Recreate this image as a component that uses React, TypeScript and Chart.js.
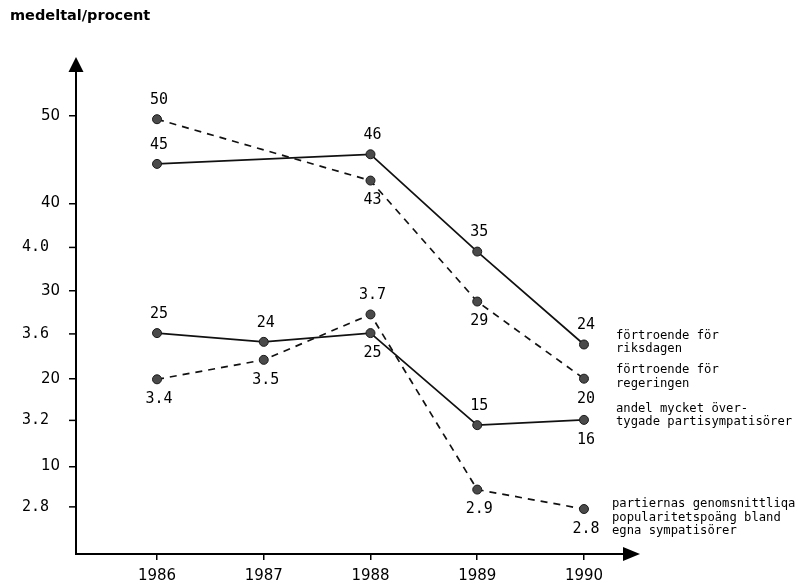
import React, { useEffect, useRef } from "react";
import { Chart, registerables } from "chart.js";

Chart.register(...registerables);

// ---- data ----
const YEARS = [1986, 1987, 1988, 1989, 1990];
// percent series (null = no measurement that year)
const RIKSDAGEN: (number | null)[] = [44.5, null, 45.6, 34.5, 23.9];
const REGERINGEN: (number | null)[] = [49.6, null, 42.6, 28.8, 20.0];
const OVERTYGADE: (number | null)[] = [25.2, 24.2, 25.2, 14.7, 15.3];
// mean series (drawn on the mean scale that shares the left axis)
const POPULARITET: (number | null)[] = [3.39, 3.48, 3.69, 2.88, 2.79];

const RIKSDAGEN_LABELS = ["45", "", "46", "35", "24"];
const REGERINGEN_LABELS = ["50", "", "43", "29", "20"];
const OVERTYGADE_LABELS = ["25", "24", "25", "15", "16"];
const POPULARITET_LABELS = ["3.4", "3.5", "3.7", "2.9", "2.8"];

const PERCENT_TICKS = [10, 20, 30, 40, 50];
const MEAN_TICKS = [2.8, 3.2, 3.6, 4.0];

const TITLE = "medeltal/procent";
const LEGEND_RIKSDAGEN = ["förtroende för", "riksdagen"];
const LEGEND_REGERINGEN = ["förtroende för", "regeringen"];
const LEGEND_OVERTYGADE = ["andel mycket över-", "tygade partisympatisörer"];
const LEGEND_POPULARITET = ["partiernas genomsnittliqa", "popularitetspoäng bland", "egna sympatisörer"];

// ---- layout / style ----
const PCT_MIN = 0;
const PCT_MAX = 55.1;
const MEAN_MIN = 2.582;
const MEAN_MAX = 4.816;
const X_MIN = 1985.241;
const X_MAX = 1990.375;
const INK = "#000";
const MONO = '"DejaVu Sans Mono", monospace';
const SANS = '"DejaVu Sans", sans-serif';

function toPoints(values: (number | null)[]) {
  const pts: { x: number; y: number }[] = [];
  values.forEach((v, i) => {
    if (v !== null) pts.push({ x: YEARS[i], y: v });
  });
  return pts;
}
function labelsFor(values: (number | null)[], labels: string[]) {
  return labels.filter((_, i) => values[i] !== null);
}

const overlayPlugin = {
  id: "overlay",
  afterDraw(chart: any) {
    const ctx: CanvasRenderingContext2D = chart.ctx;
    const { left, top, right, bottom } = chart.chartArea;
    ctx.save();

    // arrowheads
    ctx.fillStyle = INK;
    ctx.beginPath();
    ctx.moveTo(left, top - 14);
    ctx.lineTo(left - 7.5, top + 1);
    ctx.lineTo(left + 7.5, top + 1);
    ctx.closePath();
    ctx.fill();
    ctx.beginPath();
    ctx.moveTo(right + 16, bottom);
    ctx.lineTo(right - 1, bottom - 7);
    ctx.lineTo(right - 1, bottom + 7);
    ctx.closePath();
    ctx.fill();

    // mean-scale ticks and labels
    const y2 = chart.scales.y2;
    ctx.strokeStyle = INK;
    ctx.lineWidth = 1.5;
    ctx.font = `15px ${MONO}`;
    ctx.textAlign = "right";
    ctx.textBaseline = "middle";
    MEAN_TICKS.forEach((v) => {
      const py = y2.getPixelForValue(v);
      ctx.beginPath();
      ctx.moveTo(left - 7, py);
      ctx.lineTo(left, py);
      ctx.stroke();
      ctx.fillText(v.toFixed(1), left - 27, py);
    });

    // data labels
    ctx.font = `15px ${MONO}`;
    ctx.textAlign = "center";
    ctx.fillStyle = INK;
    chart.data.datasets.forEach((ds: any, di: number) => {
      const meta = chart.getDatasetMeta(di);
      meta.data.forEach((pt: any, j: number) => {
        const txt = ds.pointLabels[j];
        if (!txt) return;
        const dy = ds.labelPlacement[j] === "above" ? -19 : 20;
        ctx.fillText(txt, pt.x + 2, pt.y + dy);
      });
    });

    // side legend
    ctx.font = `12.2px ${MONO}`;
    ctx.textAlign = "left";
    const blocks: [string[], number, number][] = [
      [LEGEND_RIKSDAGEN, 616, 335.5],
      [LEGEND_REGERINGEN, 616, 370],
      [LEGEND_OVERTYGADE, 616, 408.5],
      [LEGEND_POPULARITET, 612, 504],
    ];
    blocks.forEach(([lines, x0, y0]) => {
      lines.forEach((l, k) => ctx.fillText(l, x0, y0 + k * 13.5));
    });

    // title
    ctx.font = `bold 14.5px ${SANS}`;
    ctx.fillText(TITLE, 10, 16);

    ctx.restore();
  },
};

export default function App() {
  const ref = useRef<HTMLCanvasElement | null>(null);

  useEffect(() => {
    document.body.style.margin = "0";
    const canvas = ref.current;
    if (!canvas) return;

    const base = {
      borderColor: "#111",
      borderWidth: 1.7,
      pointRadius: 4.5,
      pointHoverRadius: 4.5,
      pointBackgroundColor: "#4a4a4a",
      pointBorderColor: "#1a1a1a",
      pointBorderWidth: 1,
      fill: false,
      tension: 0,
      clip: false as any,
    };

    const chart = new Chart(canvas, {
      type: "line",
      data: {
        datasets: [
          {
            ...base,
            label: "förtroende för riksdagen",
            data: toPoints(RIKSDAGEN),
            yAxisID: "y",
            pointLabels: labelsFor(RIKSDAGEN, RIKSDAGEN_LABELS),
            labelPlacement: ["above", "above", "above", "above"],
          } as any,
          {
            ...base,
            label: "förtroende för regeringen",
            data: toPoints(REGERINGEN),
            yAxisID: "y",
            borderDash: [7, 6],
            pointLabels: labelsFor(REGERINGEN, REGERINGEN_LABELS),
            labelPlacement: ["above", "below", "below", "below"],
          } as any,
          {
            ...base,
            label: "andel mycket övertygade partisympatisörer",
            data: toPoints(OVERTYGADE),
            yAxisID: "y",
            pointLabels: labelsFor(OVERTYGADE, OVERTYGADE_LABELS),
            labelPlacement: ["above", "above", "below", "above", "below"],
          } as any,
          {
            ...base,
            label: "partiernas genomsnittliga popularitetspoäng",
            data: toPoints(POPULARITET),
            yAxisID: "y2",
            borderDash: [7, 6],
            pointLabels: labelsFor(POPULARITET, POPULARITET_LABELS),
            labelPlacement: ["below", "below", "above", "below", "below"],
          } as any,
        ],
      },
      options: {
        responsive: false,
        animation: false,
        devicePixelRatio: 1,
        layout: { padding: { top: 71, right: 174, left: 0, bottom: 0 } },
        plugins: {
          legend: { display: false },
          tooltip: { enabled: false },
          title: { display: false },
        },
        scales: {
          x: {
            type: "linear",
            min: X_MIN,
            max: X_MAX,
            afterBuildTicks: (s: any) => {
              s.ticks = YEARS.map((v) => ({ value: v }));
            },
            afterFit: (s: any) => {
              s.height = 32;
            },
            grid: {
              drawOnChartArea: false,
              drawTicks: true,
              tickLength: 6,
              color: INK,
              lineWidth: 1.5,
            },
            border: { display: true, color: INK, width: 2 },
            ticks: {
              padding: 7,
              color: INK,
              font: { family: SANS, size: 15 },
              maxRotation: 0,
              autoSkip: false,
              callback: (v: any) => String(v),
            },
          },
          y: {
            type: "linear",
            position: "left",
            min: PCT_MIN,
            max: PCT_MAX,
            afterBuildTicks: (s: any) => {
              s.ticks = PERCENT_TICKS.map((v) => ({ value: v }));
            },
            afterFit: (s: any) => {
              s.width = 76;
            },
            grid: {
              drawOnChartArea: false,
              drawTicks: true,
              tickLength: 7,
              color: INK,
              lineWidth: 1.5,
            },
            border: { display: true, color: INK, width: 2 },
            ticks: {
              padding: 9,
              color: INK,
              font: { family: SANS, size: 15 },
              autoSkip: false,
              callback: (v: any) => String(v),
            },
          },
          y2: {
            type: "linear",
            display: false,
            position: "left",
            min: MEAN_MIN,
            max: MEAN_MAX,
          },
        },
      } as any,
      plugins: [overlayPlugin],
    });

    return () => chart.destroy();
  }, []);

  return (
    <div style={{ width: 798, height: 586 }}>
      <canvas ref={ref} width={798} height={586} style={{ display: "block" }} />
    </div>
  );
}
